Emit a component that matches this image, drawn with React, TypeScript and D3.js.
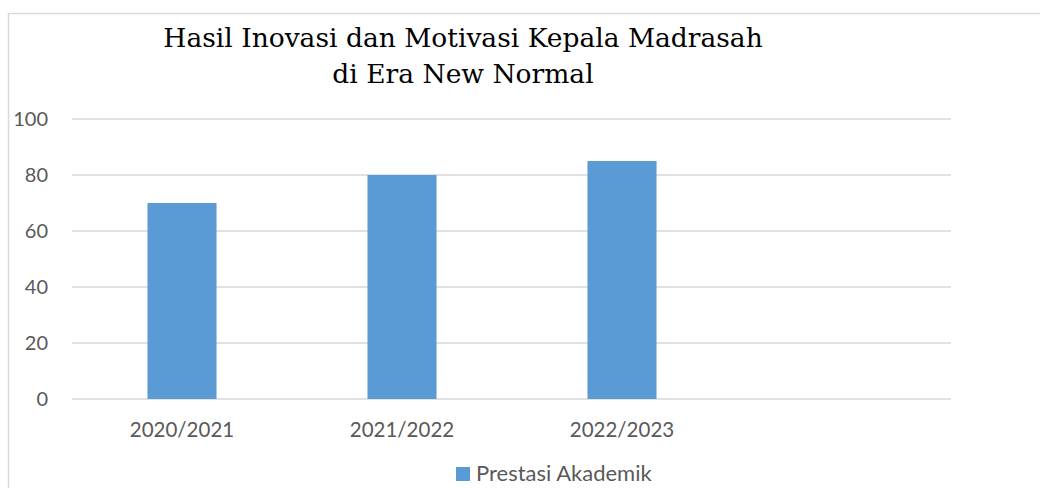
import React from "react";
import * as d3 from "d3";

const categories = ["2020/2021", "2021/2022", "2022/2023", ""];
const seriesName = "Prestasi Akademik";
const values = [70, 80, 85];
const yTicks = [0, 20, 40, 60, 80, 100];
const titleLines = ["Hasil Inovasi dan Motivasi Kepala Madrasah", "di Era New Normal"];

const W = 1040;
const H = 488;
const plot = { left: 72, right: 952, top: 119, bottom: 399 };
const barColor = "#5B9BD5";
const gridColor = "#D9D9D9";
const textColor = "#595959";
const labelFont = "Lato, 'Open Sans', sans-serif";

export default function App() {
  const x = d3.scaleBand<string>().domain(categories).range([plot.left, plot.right]).padding(0);
  const y = d3.scaleLinear().domain([0, 100]).range([plot.bottom, plot.top]);
  const bw = x.bandwidth() * 0.314;

  return (
    <svg
      width={W}
      height={H}
      style={{ position: "absolute", left: 0, top: 0, background: "#fff" }}
    >
      <rect x={8.5} y={13.5} width={W + 20} height={H + 20} fill="#fff" stroke={gridColor} strokeWidth={1.5} />
      {titleLines.map((t, i) => (
        <text
          key={i}
          x={463}
          y={47 + i * 36}
          textAnchor="middle"
          fontFamily="'DejaVu Serif', serif"
          fontSize={26.5}
          fill="#000"
        >
          {t}
        </text>
      ))}
      {yTicks.map((t) => (
        <g key={t}>
          <line x1={plot.left} x2={plot.right - 1} y1={y(t)} y2={y(t)} stroke={gridColor} strokeWidth={1.5} />
          <text
            x={48}
            y={y(t)}
            dy="0.35em"
            textAnchor="end"
            fontFamily={labelFont}
            fontSize={20}
            fill={textColor}
          >
            {t}
          </text>
        </g>
      ))}
      {values.map((v, i) => {
        const c = categories[i];
        const cx = (x(c) as number) + x.bandwidth() / 2;
        return (
          <rect key={c} x={cx - bw / 2} y={y(v)} width={bw} height={y(0) - y(v)} fill={barColor} />
        );
      })}
      {categories.filter((c) => c !== "").map((c) => (
        <text
          key={c}
          x={(x(c) as number) + x.bandwidth() / 2}
          y={437}
          textAnchor="middle"
          fontFamily={labelFont}
          fontSize={20.5}
          fill={textColor}
        >
          {c}
        </text>
      ))}
      <g>
        <rect x={456} y={467} width={14} height={14} fill={barColor} />
        <text x={476} y={481} fontFamily={labelFont} fontSize={22} fill={textColor}>
          {seriesName}
        </text>
      </g>
    </svg>
  );
}
